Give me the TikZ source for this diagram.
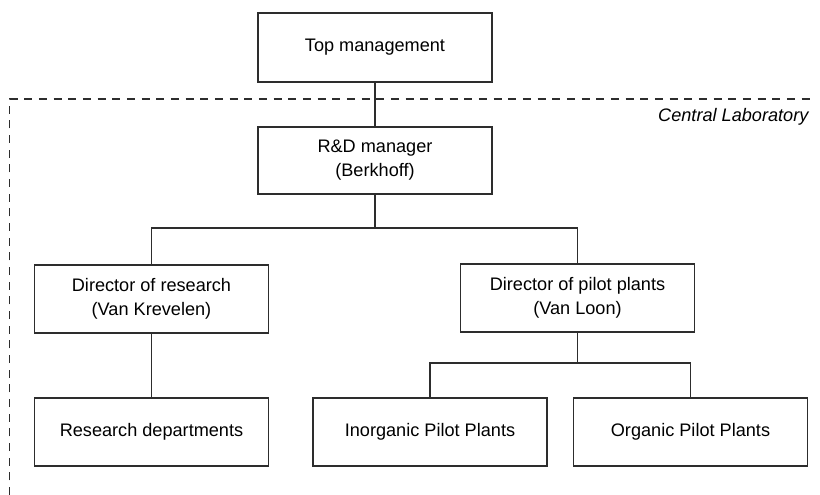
\documentclass[tikz,border=0pt]{standalone}
\usepackage{fontspec}
\setmainfont{Liberation Sans}
\definecolor{inkgrey}{RGB}{45,45,45}
\tikzset{every picture/.style={line width=0.9pt}}
\tikzset{unitbox/.style={draw=inkgrey, text=black, align=center, inner sep=0pt, minimum width=175.5pt, font=\fontsize{13.6}{18}\selectfont}}

\begin{document}
\begin{tikzpicture}[x=0.75pt,y=0.75pt,yscale=-1,xscale=1]
\useasboundingbox (0,0) rectangle (820,495);

%Frame: Central Laboratory
\draw [draw=inkgrey, line width=0.8pt, dash pattern=on 6pt off 5pt] (9.5,495) -- (9.5,99) -- (815,99) ;
% Text Node
\node [anchor=east, inner sep=0pt, font=\fontsize{13.6}{16}\selectfont\itshape] (lab) at (809,117) {Central Laboratory};

%Boxes
\node [unitbox, minimum height=51.75pt] (top) at (375,47.5) {Top management};
\node [unitbox, minimum height=50.25pt] (rd) at (375,160.5) {R\&D manager\\(Berkhoff)};
\node [unitbox, minimum height=51pt] (dres) at (151.5,299) {Director of research\\(Van Krevelen)};
\node [unitbox, minimum height=51pt] (dpil) at (577.5,298) {Director of pilot plants\\(Van Loon)};
\node [unitbox, minimum height=51pt] (resd) at (151.5,432) {Research departments};
\node [unitbox, minimum height=51pt] (inorg) at (430,432) {Inorganic Pilot Plants};
\node [unitbox, minimum height=51pt] (org) at (690.5,432) {Organic Pilot Plants};

%Connectors
\coordinate (split1) at (375,228);
\coordinate (split2) at (577.5,363);
\draw [inkgrey] (top) -- (rd) ;
\draw [inkgrey] (rd) -- (split1) ;
\draw [inkgrey] (dres.north) |- (split1) -| (dpil.north) ;
\draw [inkgrey] (dres) -- (resd) ;
\draw [inkgrey] (dpil) -- (split2) ;
\draw [inkgrey] (inorg.north) |- (split2) -| (org.north) ;

\end{tikzpicture}
\end{document}
